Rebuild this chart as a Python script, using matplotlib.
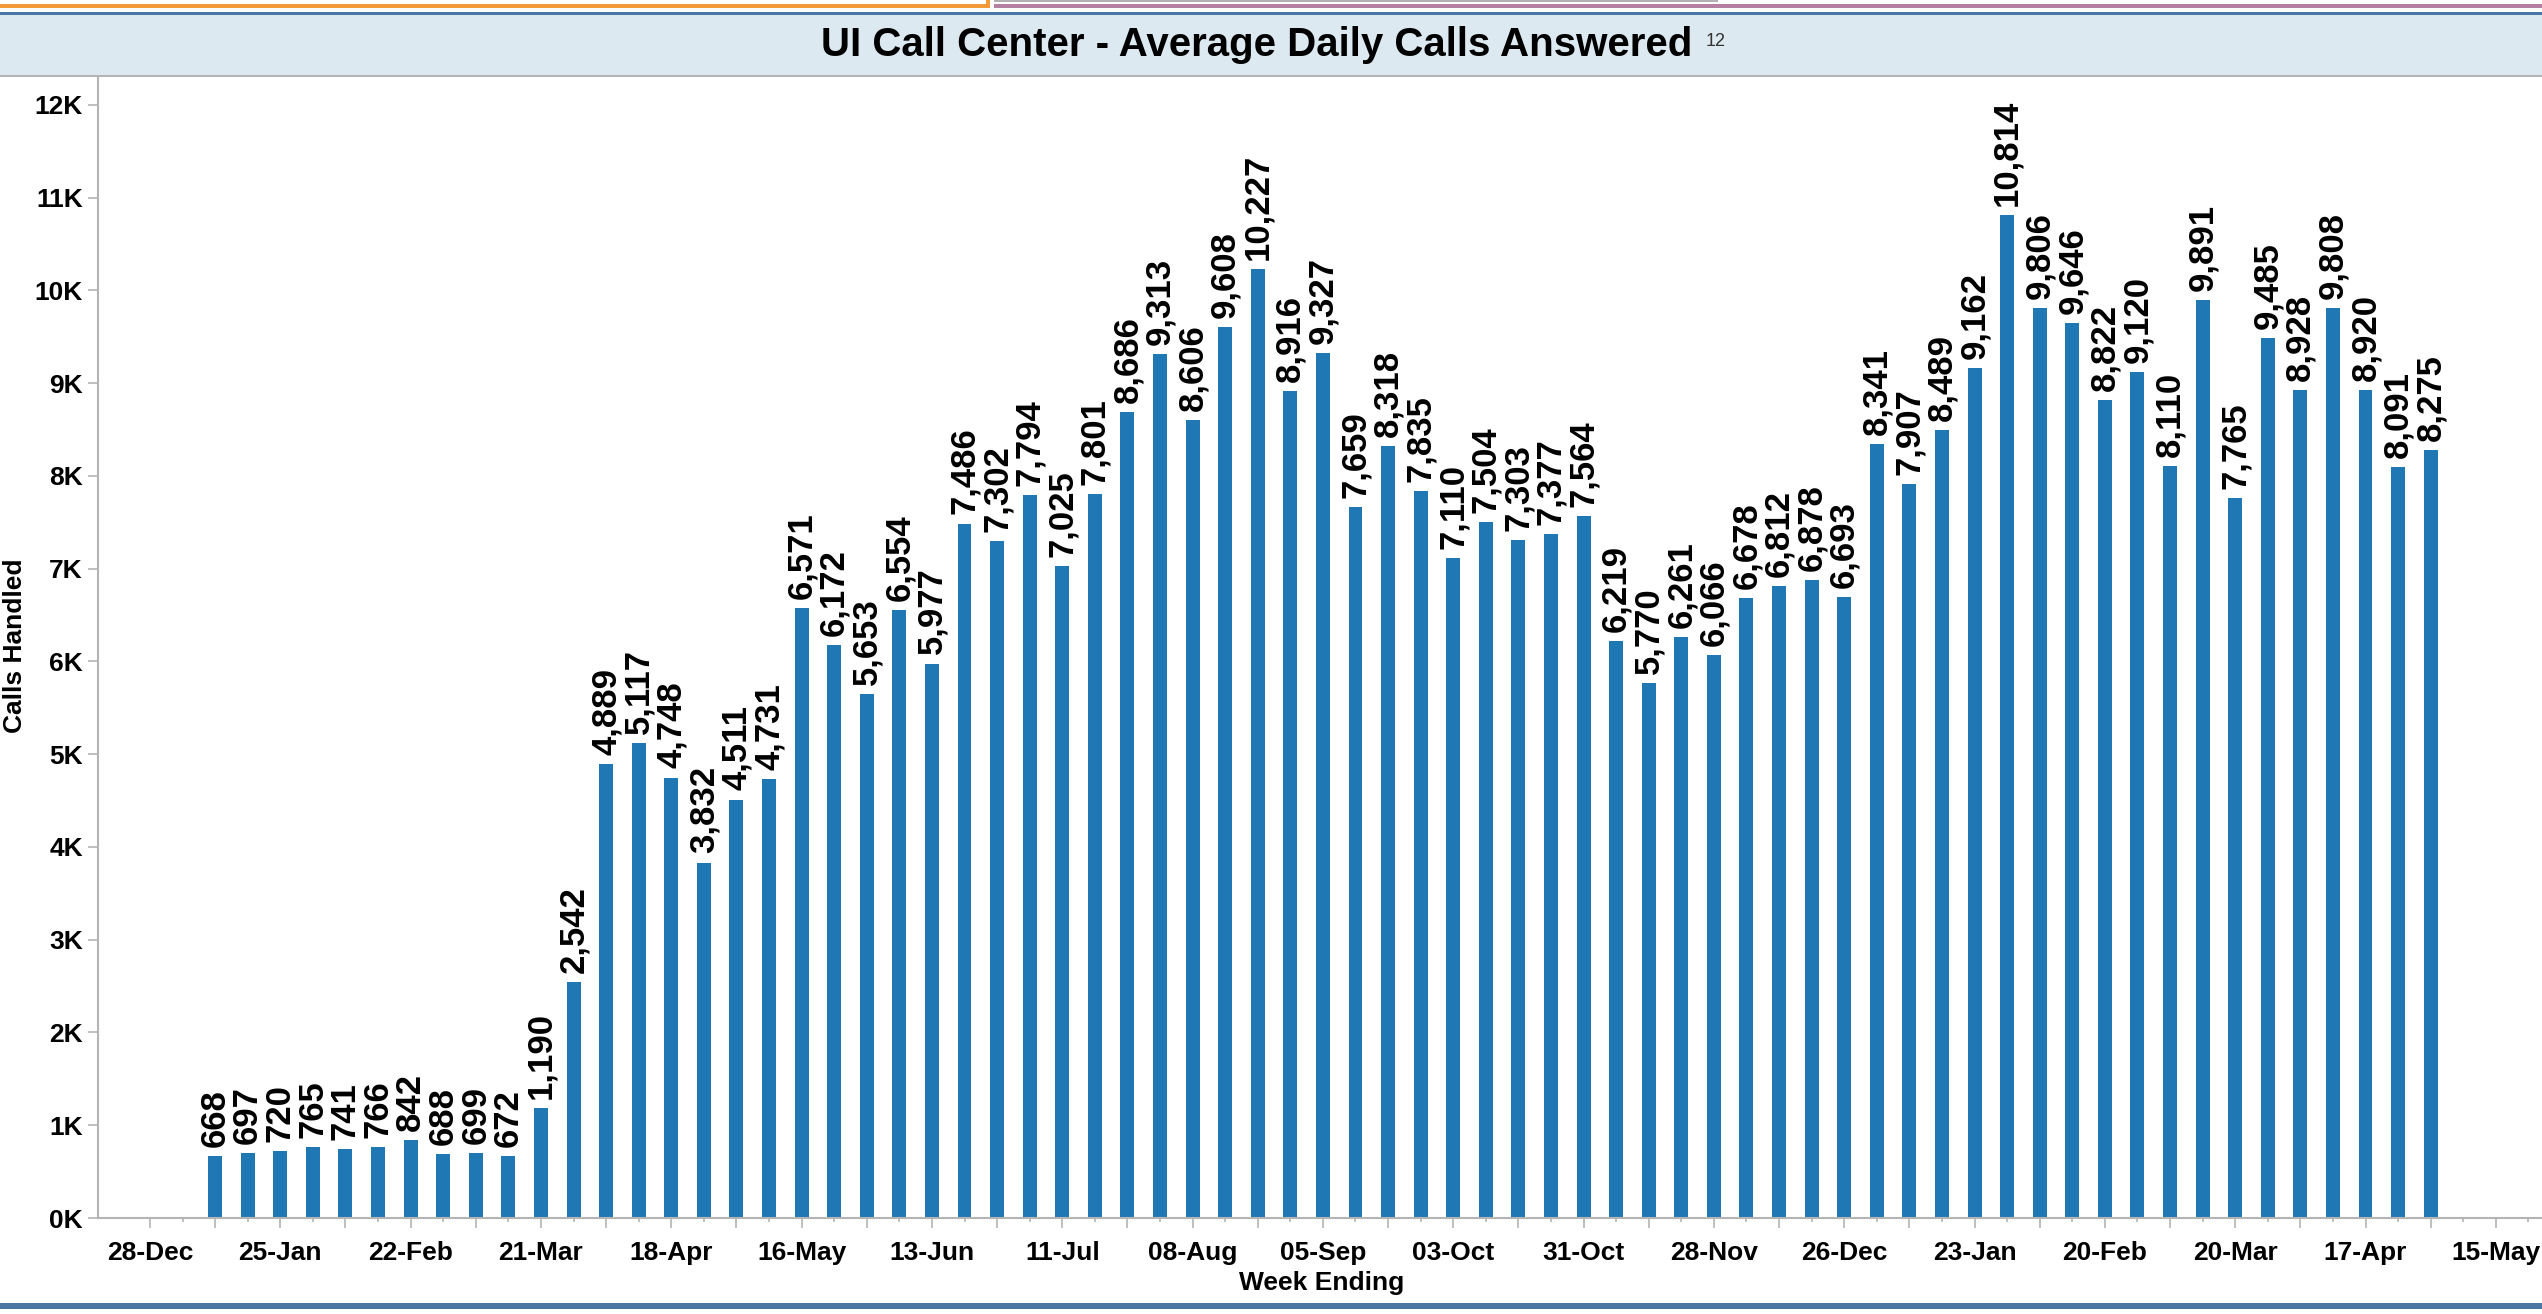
import pandas as pd
import matplotlib.pyplot as plt
from matplotlib.patches import Rectangle

plt.rcParams['font.family'] = ['Liberation Sans', 'DejaVu Sans']

# weekly average of calls answered, week ending on Saturday
first_week = '2020-01-11'
calls = [668, 697, 720, 765, 741, 766, 842, 688, 699, 672,
         1190, 2542, 4889, 5117, 4748, 3832, 4511, 4731, 6571, 6172,
         5653, 6554, 5977, 7486, 7302, 7794, 7025, 7801, 8686, 9313,
         8606, 9608, 10227, 8916, 9327, 7659, 8318, 7835, 7110, 7504,
         7303, 7377, 7564, 6219, 5770, 6261, 6066, 6678, 6812, 6878,
         6693, 8341, 7907, 8489, 9162, 10814, 9806, 9646, 8822, 9120,
         8110, 9891, 7765, 9485, 8928, 9808, 8920, 8091, 8275]
weeks = pd.date_range(first_week, periods=len(calls), freq='7D')

title = 'UI Call Center - Average Daily Calls Answered'
bar_color = '#1f77b4'
axis_grey = '#b4b4b4'

W, H = 2542, 1314
fig = plt.figure(figsize=(W / 100, H / 100), dpi=100)


def band(x0, y0, x1, y1, color):
    # rectangle in pixels, measured from the top-left corner
    fig.add_artist(Rectangle((x0 / W, 1 - y1 / H), (x1 - x0) / W, (y1 - y0) / H,
                             transform=fig.transFigure, color=color, lw=0))


# dashboard header strips
band(0, 15, W, 76, '#dde9f0')
band(0, 75, W, 77, axis_grey)
band(0, 12, W, 15, '#4a76a4')
band(0, 4, 990, 8, '#f39a36')
band(986, 0, 990, 8, '#f39a36')
band(994, 4, W, 8, '#b47fa0')
band(994, 0, 1718, 1.5, '#b0b0b0')
band(0, 1303, W, 1309, '#4a76a4')

fig.text(1257 / W, 1 - 56 / H, title, ha='center', va='baseline',
         fontsize=29, fontweight='bold')
fig.text(1706 / W, 1 - 46 / H, '12', ha='left', va='baseline',
         fontsize=13, color='#333333')

ax = fig.add_axes([98 / W, 1 - 1218 / H, (W - 98) / W, (1218 - 76) / H])
ax.bar(weeks, calls, width=3.0, color=bar_color)

for d, v in zip(weeks, calls):
    ax.annotate(f'{v:,}', (d, v), xytext=(0, 6.5), textcoords='offset points',
                rotation=90, ha='center', va='bottom', fontsize=25,
                fontweight='bold')

ax.set_xlim(pd.Timestamp('2019-12-16 20:00'), pd.Timestamp('2021-05-24 22:00'))
ax.set_ylim(0, 12310)

yt = list(range(0, 12001, 1000))
ax.set_yticks(yt)
ax.set_yticklabels([f'{v // 1000}K' for v in yt], fontsize=19, fontweight='bold')

tick_weeks = pd.date_range('2019-12-28', '2021-05-22', freq='7D')
major = tick_weeks[::2]
minor = tick_weeks[1::2]
ax.set_xticks(major)
ax.set_xticklabels([d.strftime('%d-%b') if i % 2 == 0 else ''
                    for i, d in enumerate(major)], fontsize=19, fontweight='bold')
ax.set_xticks(minor, minor=True)

ax.tick_params(axis='y', length=7.2, width=1.2, color=axis_grey, pad=3.6)
ax.tick_params(axis='x', which='major', length=7.2, width=1.2, color=axis_grey, pad=9.4)
ax.tick_params(axis='x', which='minor', length=3, width=1.2, color=axis_grey)

for s in ['top', 'right']:
    ax.spines[s].set_visible(False)
for s in ['left', 'bottom']:
    ax.spines[s].set_color(axis_grey)
    ax.spines[s].set_linewidth(1.5)

fig.text(15 / W, 1 - 646 / H, 'Calls Handled', rotation=90, ha='center',
         va='center', fontsize=19, fontweight='bold')
fig.text(1322 / W, 1 - 1290 / H, 'Week Ending', ha='center', va='baseline',
         fontsize=19, fontweight='bold')

fig.savefig('out.png', dpi=100)
